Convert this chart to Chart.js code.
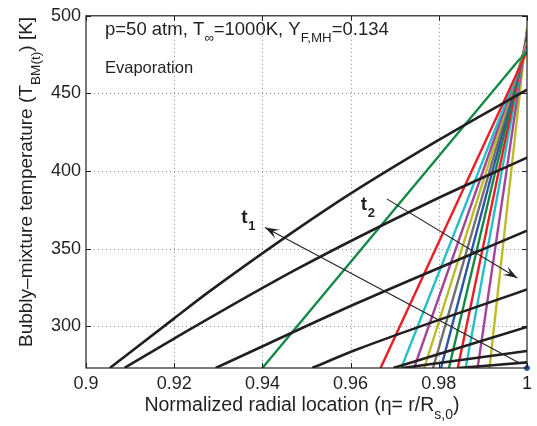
<!DOCTYPE html>
<html>
<head>
<meta charset="utf-8">
<script src="https://cdn.jsdelivr.net/npm/chart.js@4"></script>
<style>
  html, body { margin: 0; padding: 0; background: #fff; }
  #wrap { width: 537px; height: 426px; }
</style>
</head>
<body>
<div id="wrap"><canvas id="c"></canvas></div>
<script>
// axis ticks
const xTicks = [0.9, 0.92, 0.94, 0.96, 0.98, 1];
const yTicks = [300, 350, 400, 450, 500];
const yMin = 273;

// black profiles (early times): eta and temperature
const blackEta = [
  [0.9054, 0.92, 0.9283, 0.9576, 0.98, 1],
  [0.9087, 0.92, 0.948, 0.978, 1],
  [0.9294, 0.9614, 1],
  [0.9513, 0.9614, 1],
  [0.9697, 1],
  [0.9717, 1],
  [0.9843, 1]
];
const blackTemp = [
  [273, 305, 323, 381, 420, 452.4],
  [273, 292, 337, 380, 408.6],
  [273, 314.7, 361.5],
  [273, 284.9, 323.6],
  [273, 299.5],
  [273, 284],
  [273, 276.6]
];

// long green profile
const greenEta = [0.94, 0.998, 1];
const greenTemp = [273, 471, 477];

// coloured profiles (late times): start eta at bottom, temperature at eta = 1
const fanEta = [0.9668, 0.9715, 0.9744, 0.9767, 0.9787, 0.9805, 0.9823, 0.9843, 0.9861, 0.9888, 0.9915];
const fanTopTemp = [477, 479, 481, 483, 484, 485, 486, 487, 488, 490, 492];
const fanColors = ['#ec1c24', '#25bfc8', '#a2449c', '#bcbc2a', '#707070', '#2d55a6',
                   '#128a45', '#ec1c24', '#25bfc8', '#a2449c', '#bcbc2a'];

// arrows [eta0, T0, eta1, T1] (tail -> head)
const arrowT1 = [0.9984, 276, 0.9406, 363.6];
const arrowT2 = [0.9682, 382, 0.9978, 331];

const FONT = '"Liberation Sans", Arial, Helvetica, sans-serif';

const datasets = [];
blackEta.forEach((eta, i) => {
  datasets.push({
    data: eta.map((x, k) => ({ x: x, y: blackTemp[i][k] })),
    borderColor: '#231f20', borderWidth: 2.6, cubicInterpolationMode: 'monotone'
  });
});
datasets.push({
  data: greenEta.map((x, k) => ({ x: x, y: greenTemp[k] })),
  borderColor: '#138a46', borderWidth: 2.4
});
fanEta.forEach((x0, i) => {
  datasets.push({
    data: [{ x: x0, y: yMin }, { x: 1, y: fanTopTemp[i] }],
    borderColor: fanColors[i], borderWidth: 2.4
  });
});
datasets.push({
  data: [{ x: 1, y: yMin }],
  borderColor: '#2d55a6', backgroundColor: '#2d55a6', pointRadius: 2.5, showLine: false, clip: false
});

function drawArrow(ctx, x0, y0, x1, y1) {
  ctx.beginPath();
  ctx.moveTo(x0, y0);
  ctx.lineTo(x1, y1);
  ctx.stroke();
  const a = Math.atan2(y1 - y0, x1 - x0);
  const L = 15, W = 0.33;
  ctx.beginPath();
  ctx.moveTo(x1, y1);
  ctx.lineTo(x1 - L * Math.cos(a - W), y1 - L * Math.sin(a - W));
  ctx.lineTo(x1 - L * 0.55 * Math.cos(a), y1 - L * 0.55 * Math.sin(a));
  ctx.lineTo(x1 - L * Math.cos(a + W), y1 - L * Math.sin(a + W));
  ctx.closePath();
  ctx.fill();
}

// text pieces with subscripts: parts = [[text, 'n'|'s'], ...]
function richText(ctx, parts, x, y, size) {
  let cx = x;
  parts.forEach(([t, kind]) => {
    const fs = kind === 's' ? size * 0.72 : size;
    const dy = kind === 's' ? size * 0.4 : 0;
    ctx.font = fs + 'px ' + FONT;
    ctx.fillText(t, cx, y + dy);
    cx += ctx.measureText(t).width;
  });
  return cx - x;
}
function richWidth(ctx, parts, size) {
  let w = 0;
  parts.forEach(([t, kind]) => {
    ctx.font = (kind === 's' ? size * 0.72 : size) + 'px ' + FONT;
    w += ctx.measureText(t).width;
  });
  return w;
}

const grid = {
  id: 'grid',
  beforeDatasetsDraw(chart) {
    const { ctx, chartArea: a, scales: { x, y } } = chart;
    ctx.save();
    ctx.strokeStyle = '#8c8c8c';
    ctx.lineWidth = 1;
    ctx.setLineDash([1, 3]);
    xTicks.slice(1, -1).forEach(v => {
      const px = Math.round(x.getPixelForValue(v)) + 0.5;
      ctx.beginPath(); ctx.moveTo(px, a.top); ctx.lineTo(px, a.bottom); ctx.stroke();
    });
    yTicks.slice(0, -1).forEach(v => {
      const py = Math.round(y.getPixelForValue(v)) + 0.5;
      ctx.beginPath(); ctx.moveTo(a.left, py); ctx.lineTo(a.right, py); ctx.stroke();
    });
    ctx.restore();
  }
};

const decor = {
  id: 'decor',
  afterDatasetsDraw(chart) {
    const { ctx, chartArea: a, scales: { x, y } } = chart;
    ctx.save();
    // inward ticks on all four sides
    ctx.strokeStyle = '#231f20';
    ctx.lineWidth = 1;
    xTicks.forEach(v => {
      const px = Math.round(x.getPixelForValue(v)) + 0.5;
      ctx.beginPath();
      ctx.moveTo(px, a.bottom); ctx.lineTo(px, a.bottom - 5);
      ctx.moveTo(px, a.top); ctx.lineTo(px, a.top + 5);
      ctx.stroke();
    });
    yTicks.forEach(v => {
      const py = Math.round(y.getPixelForValue(v)) + 0.5;
      ctx.beginPath();
      ctx.moveTo(a.left, py); ctx.lineTo(a.left + 5, py);
      ctx.moveTo(a.right, py); ctx.lineTo(a.right - 5, py);
      ctx.stroke();
    });
    // frame
    ctx.lineWidth = 1.2;
    ctx.strokeRect(a.left, a.top, a.right - a.left, a.bottom - a.top);

    // arrows
    ctx.strokeStyle = '#231f20';
    ctx.fillStyle = '#231f20';
    ctx.lineWidth = 1.1;
    [arrowT1, arrowT2].forEach(ar => {
      drawArrow(ctx, x.getPixelForValue(ar[0]), y.getPixelForValue(ar[1]),
        x.getPixelForValue(ar[2]), y.getPixelForValue(ar[3]));
    });

    // labels t1, t2
    ctx.textBaseline = 'alphabetic';
    ctx.textAlign = 'left';
    ctx.fillStyle = '#231f20';
    [['1', 0.9361, 370.6], ['2', 0.9632, 378.8]].forEach(([n, ex, ty]) => {
      const px = x.getPixelForValue(ex), py = y.getPixelForValue(ty);
      ctx.font = 'bold 19px ' + FONT;
      ctx.fillText('t', px - 4, py + 6);
      ctx.font = 'bold 13px ' + FONT;
      ctx.fillText(n, px + 3, py + 13);
    });

    richText(ctx, [['p=50 atm, T', 'n'], ['\u221E', 's'], ['=1000K, Y', 'n'], ['F,MH', 's'], ['=0.134', 'n']],
      a.left + 19, 35, 18.5);
    ctx.font = '16.5px ' + FONT;
    ctx.fillText('Evaporation', a.left + 19, 73);

    // axis titles
    const xt = [['Normalized radial location (\u03B7= r/R', 'n'], ['s,0', 's'], [')', 'n']];
    const xw = richWidth(ctx, xt, 19.5);
    richText(ctx, xt, 302 - xw / 2, 411, 19.5);

    const yt = [['Bubbly\u2013mixture temperature (T', 'n'], ['BM(t)', 's'], [') [K]', 'n']];
    ctx.translate(32, 347);
    ctx.rotate(-Math.PI / 2);
    richText(ctx, yt, 0, 0, 19);
    ctx.restore();
  }
};

new Chart(document.getElementById('c'), {
  type: 'line',
  data: { datasets: datasets },
  options: {
    responsive: true,
    maintainAspectRatio: false,
    animation: false,
    layout: { padding: { left: 0, right: 5, top: 11, bottom: 0 } },
    elements: { point: { radius: 0 }, line: { tension: 0 } },
    plugins: { legend: { display: false }, tooltip: { enabled: false } },
    scales: {
      x: {
        type: 'linear', min: 0.9, max: 1,
        afterBuildTicks: s => { s.ticks = xTicks.map(v => ({ value: v })); },
        afterFit: s => { s.height = 58; },
        grid: { display: false, drawTicks: false },
        border: { display: false },
        ticks: {
          padding: 5, color: '#231f20', font: { family: FONT, size: 18 },
          callback: v => String(v)
        }
      },
      y: {
        type: 'linear', min: yMin, max: 500,
        afterBuildTicks: s => { s.ticks = yTicks.map(v => ({ value: v })); },
        afterFit: s => { s.width = 86; },
        grid: { display: false, drawTicks: false },
        border: { display: false },
        ticks: {
          padding: 5, color: '#231f20', font: { family: FONT, size: 18 },
          callback: v => String(v)
        }
      }
    }
  },
  plugins: [grid, decor]
});
</script>
</body>
</html>
